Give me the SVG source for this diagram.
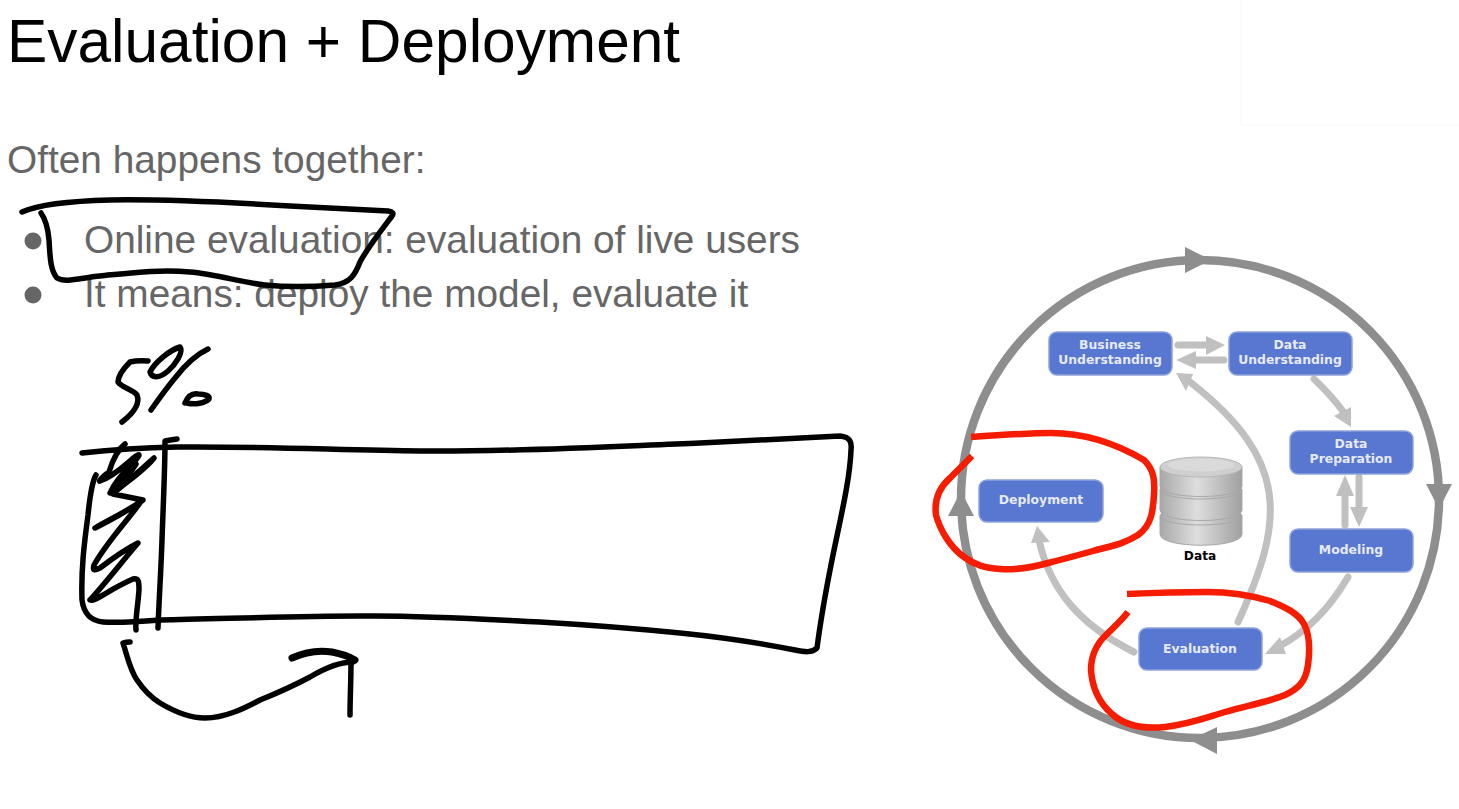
<svg xmlns="http://www.w3.org/2000/svg" width="1459" height="809" viewBox="0 0 1459 809">
<style>
.t{font-family:"Liberation Sans",Arial,sans-serif;fill:#666}
.n rect{fill:#5877d0;stroke:#8ea3dc;stroke-width:1.5}
.n text{font-family:"DejaVu Sans",Verdana,sans-serif;font-weight:700;font-size:12.4px;fill:#e6eaf7;text-anchor:middle}
.ring{fill:none;stroke:#8e8e8e;stroke-width:8.5}
.rh{fill:#8e8e8e}
.l{fill:none;stroke:#c0c0c0;stroke-width:7;stroke-linecap:round}
.lh{fill:#c0c0c0}
.ink{fill:none;stroke:#000;stroke-width:5.5;stroke-linecap:round;stroke-linejoin:round}
.red{fill:none;stroke:#f51c00;stroke-width:6.5;stroke-linecap:butt;stroke-linejoin:round}
.disc{fill:url(#cyl);stroke:#a8a8a8;stroke-width:1}
</style>
<defs>
<linearGradient id="cyl" x1="0" x2="1" y1="0" y2="0">
<stop offset="0" stop-color="#a8a8a8"/><stop offset=".45" stop-color="#dedede"/><stop offset="1" stop-color="#a0a0a0"/>
</linearGradient>
</defs>
<rect width="1459" height="809" fill="#fff"/>
<rect x="1241" y="-2" width="220" height="127" fill="#fff" stroke="#f8f8f8"/>
<text class="t" x="7" y="62" font-size="60.4" style="fill:#000">Evaluation + Deployment</text>
<text class="t" x="7" y="173" font-size="38.8">Often happens together:</text>
<circle cx="33" cy="241" r="8.5" fill="#666"/>
<circle cx="33" cy="295" r="8.5" fill="#666"/>
<text class="t" x="84" y="253" font-size="38.8">Online evaluation: evaluation of live users</text>
<text class="t" x="84" y="307" font-size="38.8">It means: deploy the model, evaluate it</text>

<g id="connectors">
<path class="ring" d="M961 499A239 239 0 0 1 1439 499A239 239 0 0 1 961 499Z"/>
<polygon class="rh" points="1185,247 1211,260 1185,273"/>
<polygon class="rh" points="1426,484 1452,484 1439,509"/>
<polygon class="rh" points="1217,727 1190,740 1217,754"/>
<polygon class="rh" points="948,516 974,516 961,491"/>
<path class="l" d="M1178 345H1208"/><polygon class="lh" points="1206,336 1225,345 1206,355"/>
<path class="l" d="M1224 360H1194"/><polygon class="lh" points="1196,351 1176,360 1196,369"/>
<path class="l" d="M1314 379Q1332 396 1345 414"/><polygon class="lh" points="1351,427 1351,407 1334,416"/>
<path class="l" d="M1345 525V492"/><polygon class="lh" points="1345,475 1336,496 1354,496"/>
<path class="l" d="M1359 477V510"/><polygon class="lh" points="1359,527 1350,507 1368,507"/>
<path class="l" d="M1348 577Q1320 625 1278 647"/><polygon class="lh" points="1265,654 1286,654 1280,637"/>
<path class="l" d="M1238 622C1285 520 1290 460 1190 382"/><polygon class="lh" points="1176,373 1193,374 1186,391"/>
<path class="l" d="M1134 652C1080 625 1050 590 1039 540"/><polygon class="lh" points="1037,526 1031,543 1050,542"/>
</g>

<g id="business-understanding" class="n"><rect x="1049" y="332" width="123" height="43" rx="8"/><text x="1110" y="349">Business</text><text x="1110" y="364">Understanding</text></g>
<g id="data-understanding" class="n"><rect x="1229" y="332" width="123" height="43" rx="8"/><text x="1290" y="349">Data</text><text x="1290" y="364">Understanding</text></g>
<g id="data-preparation" class="n"><rect x="1290" y="431" width="123" height="43" rx="8"/><text x="1351" y="448">Data</text><text x="1351" y="463">Preparation</text></g>
<g id="modeling" class="n"><rect x="1290" y="529" width="123" height="43" rx="8"/><text x="1351" y="554">Modeling</text></g>
<g id="evaluation" class="n"><rect x="1139" y="628" width="123" height="42" rx="8"/><text x="1200" y="653">Evaluation</text></g>
<g id="deployment" class="n"><rect x="979" y="480" width="124" height="42" rx="8"/><text x="1041" y="504">Deployment</text></g>
<g id="data">
<path class="disc" d="M1160 516V534C1160 549 1242 549 1242 534V516Z"/>
<ellipse class="disc" cx="1201" cy="516" rx="41" ry="9"/>
<path class="disc" d="M1160 490V510C1160 524 1242 524 1242 510V490Z"/>
<ellipse class="disc" cx="1201" cy="490" rx="41" ry="9"/>
<path class="disc" d="M1160 467V486C1160 500 1242 500 1242 486V467Z"/>
<ellipse cx="1201" cy="467" rx="41" ry="10" fill="#cfcfcf" stroke="#b8b8b8"/>
<ellipse cx="1201" cy="465" rx="33" ry="6.5" fill="#dadada"/>
<text x="1200" y="560" font-family="'DejaVu Sans',Verdana,sans-serif" font-weight="700" font-size="12.2" text-anchor="middle" fill="#000">Data</text>
</g>

<path class="red" d="M971 437C1000 435 1030 433 1051 433C1085 433 1115 443 1144 460C1154 470 1155 480 1154 495C1153 510 1152 525 1138 535C1122 545 1110 546 1093 551C1075 556 1060 560 1048 563C1030 568 1015 570 1000 569C985 568 975 565 964 557C950 547 940 530 936 515C934 500 940 487 950 478C958 470 966 462 972 456"/>
<path class="red" d="M1127 594C1150 593 1180 592 1207 592C1230 592 1250 595 1270 601C1285 607 1298 613 1304 624C1310 635 1310 650 1308 665C1306 680 1300 688 1285 695C1265 703 1245 706 1225 712C1205 718 1190 724 1165 727C1145 729 1125 726 1112 714C1098 702 1092 685 1091 670C1091 655 1096 645 1105 636C1113 628 1121 621 1128 612"/>

<g id="annotations">
<path class="ink" d="M22 212C40 204 70 201 110 200C170 199 240 203 290 206C330 208 370 210 388 211Q395 212 392 216C380 232 368 247 360 262C355 275 350 283 335 285C310 287 285 287 265 285C240 282 215 274 190 272C160 269 130 273 100 276C80 278 65 283 57 278C50 270 50 255 49 240C48 228 46 220 41 213"/>
<path class="ink" d="M148 361Q138 360 130 362C124 368 118 376 118 382C122 388 134 390 137 395C140 403 135 412 122 422"/>
<path class="ink" d="M180 347C170 350 155 362 150 372C152 379 160 378 168 371C175 365 184 352 180 347Z"/>
<path class="ink" d="M208 349C195 355 185 365 175 378C165 390 158 400 151 410"/>
<path class="ink" d="M185 403C188 396 192 393 198 394C205 394 210 396 209 399C205 403 195 405 187 403"/>
<path class="ink" d="M82 453C110 450 135 448 177 447C250 446 340 450 420 451C520 452 620 446 700 443C760 440 800 438 840 436C850 437 852 442 851 450C850 480 840 520 832 560C825 595 820 625 817 648C812 653 805 652 795 650C760 643 720 637 680 633C640 629 590 625 540 622C480 619 420 615 360 616C290 616 220 619 160 620C135 622 115 623 103 622C92 621 84 615 82 600C81 570 84 545 88 515C90 495 93 480 96 475"/>
<path class="ink" d="M177 439Q170 440 165 441C165 470 163 510 162 540C161 570 159 600 158 628"/>
<path class="ink" d="M125 444C117 450 112 462 109 472C103 476 98 482 100 481C115 476 128 462 136 456C142 452 138 458 132 464C122 474 114 484 110 493C125 485 140 470 154 458C145 470 122 485 113 494L143 500C130 510 108 520 95 528C115 518 130 510 142 500C130 518 108 540 94 565C92 572 95 570 100 568C113 558 128 548 138 543C125 558 104 585 90 600C95 602 108 590 133 579C139 578 139 582 139 590C138 605 135 620 136 630"/>
<path class="ink" d="M126 473C120 478 115 485 113 490C122 482 130 474 136 464"/>
<path class="ink" d="M130 642Q126 642 123 643C127 655 130 670 137 680C145 692 152 698 160 703C175 712 190 718 205 718C225 718 245 708 260 700C280 692 295 685 310 677C325 668 340 662 353 662"/>
<path class="ink" style="stroke-width:7" d="M292 658C305 652 320 650 332 652C342 654 350 657 355 660"/>
<path class="ink" d="M351 662C351 680 350 700 350 715"/>
</g>
</svg>
